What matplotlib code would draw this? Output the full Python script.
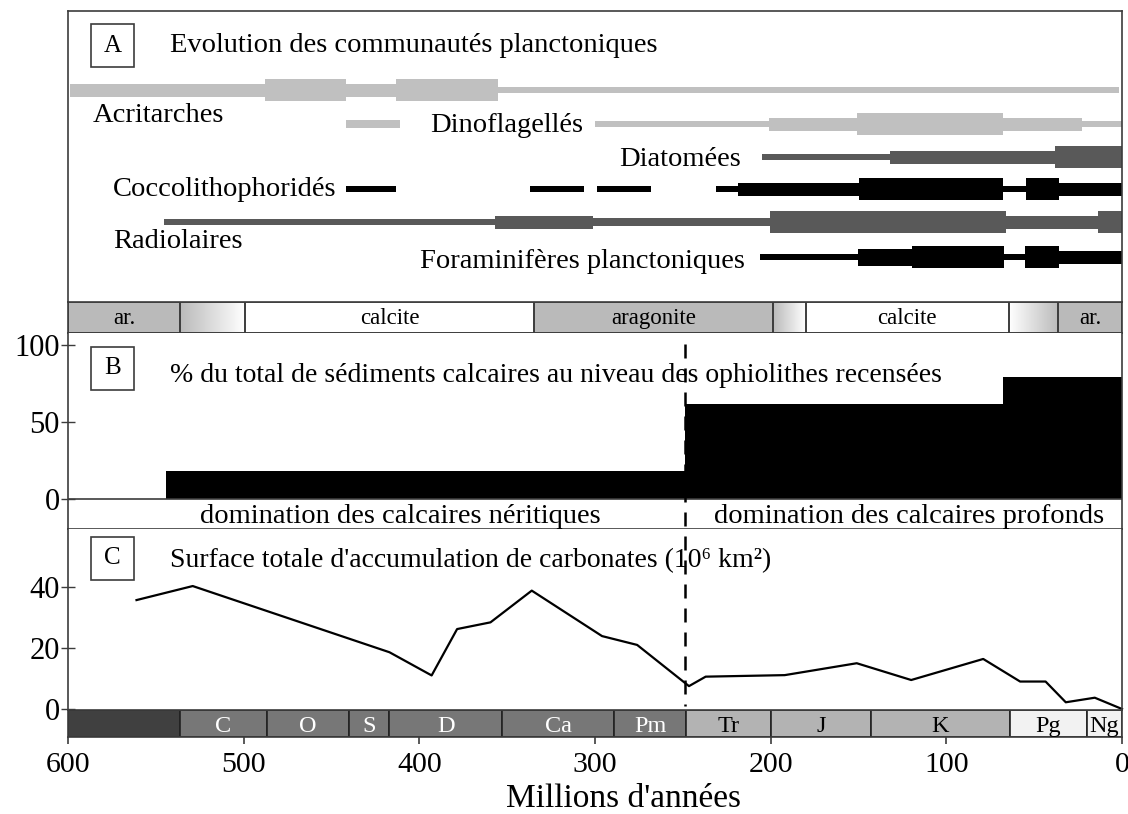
import numpy as np
import matplotlib.pyplot as plt
import matplotlib.transforms as mtransforms
from matplotlib.patches import Rectangle
from matplotlib.lines import Line2D
from matplotlib.colors import LinearSegmentedColormap

plt.rcParams['font.family'] = ['Liberation Serif', 'DejaVu Serif']

# ---- A : communautés planctoniques (début Ma, fin Ma, classe d'épaisseur)
acritarches = [(599, 488, 3), (488, 442, 5), (442, 413, 3), (413, 355, 5), (355, 1.5, 1)]
dinoflagelles = [(442, 411, 2), (300, 201, 1), (201, 151, 3), (151, 67.5, 5),
                 (67.5, 23, 3), (23, 0, 1)]
diatomees = [(205, 132, 1), (132, 38, 3), (38, 0, 5)]
coccolithophorides = [(442, 413, 1), (337, 306.5, 1), (299, 268, 1), (231, 218.5, 1),
                      (218.5, 149.5, 3), (149.5, 67.5, 5), (67.5, 54.5, 1),
                      (54.5, 36, 5), (36, 0, 3)]
radiolaires = [(545.5, 357, 1), (357, 301, 3), (301, 200.5, 2), (200.5, 66, 5),
               (66, 13.5, 3), (13.5, 0, 5)]
foraminiferes = [(206, 150.5, 1), (150.5, 119.5, 4), (119.5, 67, 5), (67, 55, 1),
                 (55, 35.7, 5), (35.7, 0, 3)]

# ---- minéralogie des mers
mineral_limites = [600, 536, 499, 335, 198.5, 180, 64.5, 36.5, 0]
mineral_noms = ['ar.', '', 'calcite', 'aragonite', '', 'calcite', '', 'ar.']
mineral_type = ['a', 'ac', 'c', 'a', 'ac', 'c', 'ca', 'a']

# ---- B : % sédiments calcaires (début Ma, fin Ma, valeur)
b_debut = [544, 249, 68]
b_fin = [249, 68, 0]
b_valeur = [18, 62, 79]
limite_pt = 249

# ---- C : surface d'accumulation des carbonates (10^6 km2)
age_c = [561, 529, 417, 393, 378.5, 359.5, 336, 296, 276, 246.5, 237, 192, 151,
         120, 79, 58, 43.5, 32, 15.5, 0]
surface_c = [35.7, 40.3, 18.6, 11.0, 26.2, 28.4, 38.8, 23.9, 21.0, 7.5, 10.6, 11.1,
             15.0, 9.5, 16.4, 9.0, 9.0, 2.2, 3.7, 0]

# ---- échelle géologique
periode_limites = [600, 536, 487, 440, 417, 353, 289, 248, 200, 143, 64, 20, 0]
periode_noms = ['', 'C', 'O', 'S', 'D', 'Ca', 'Pm', 'Tr', 'J', 'K', 'Pg', 'Ng']
periode_ere = ['pc', 'pz', 'pz', 'pz', 'pz', 'pz', 'pz', 'mz', 'mz', 'mz', 'cz', 'cz']

W, H = 1128, 814
fig = plt.figure(figsize=(W / 100, H / 100), dpi=100)


def zone(x0, y0, x1, y1):
    return [x0 / W, 1 - y1 / H, (x1 - x0) / W, (y1 - y0) / H]


X0, X1 = 68, 1122
spine_col = '#3c3c3c'
axA = fig.add_axes(zone(X0, 11, X1, 302))
axS = fig.add_axes(zone(X0, 302, X1, 333))
axB = fig.add_axes(zone(X0, 333, X1, 529))
axC = fig.add_axes(zone(X0, 529, X1, 710))
axG = fig.add_axes(zone(X0, 710, X1, 737))
for ax in (axA, axS, axB, axC, axG):
    ax.set_xlim(600, 0)
    for s in ax.spines.values():
        s.set_color(spine_col)
        s.set_linewidth(1.2)
    ax.set_xticks([])

# ---- panneau A
axA.set_ylim(302, 11)
axA.set_yticks([])
axA.spines['bottom'].set_visible(False)
epaisseur = {1: 6, 2: 8.5, 3: 13, 4: 17, 5: 21.5}
lignes = [
    (acritarches, '#c0c0c0', 90, 'Acritarches', 586, 121.5),
    (dinoflagelles, '#c0c0c0', 124, 'Dinoflagellés', 394, 131.5),
    (diatomees, '#595959', 157, 'Diatomées', 286, 166),
    (coccolithophorides, 'black', 189, 'Coccolithophoridés', 574.5, 196.5),
    (radiolaires, '#595959', 222, 'Radiolaires', 574.5, 248.5),
    (foraminiferes, 'black', 257, 'Foraminifères planctoniques', 399.5, 268.5),
]
for segs, col, yrow, nom, xl, yl in lignes:
    for deb, fin, k in segs:
        axA.barh(yrow, deb - fin, left=fin, height=epaisseur[k], color=col,
                 linewidth=0)
    axA.text(xl, yl, nom, fontsize=20.5, ha='left', va='baseline')
axA.text(542, 51.5, 'Evolution des communautés planctoniques', fontsize=20.5,
         ha='left', va='baseline')

# ---- bande minéralogique
gris = '#bababa'
cm_ac = LinearSegmentedColormap.from_list('ac', [gris, 'white'])
grad = np.linspace(0, 1, 256).reshape(1, -1)
for i, t in enumerate(mineral_type):
    a, b = mineral_limites[i], mineral_limites[i + 1]
    if t in ('ac', 'ca'):
        axS.imshow(grad, extent=(a, b, 0, 1), aspect='auto',
                   cmap=cm_ac if t == 'ac' else cm_ac.reversed(), zorder=1)
    else:
        axS.add_patch(Rectangle((b, 0), a - b, 1, fc=gris if t == 'a' else 'white',
                                ec='none', zorder=1))
    axS.add_patch(Rectangle((b, 0), a - b, 1, fc='none', ec=spine_col, lw=1.2,
                            zorder=2))
    if mineral_noms[i]:
        axS.text((a + b) / 2, 0.28, mineral_noms[i], fontsize=16.5, ha='center',
                 va='baseline', zorder=3)
axS.set_xlim(600, 0)
axS.set_ylim(0, 1)
axS.set_yticks([])

# ---- panneau B
axB.set_ylim(-19.5, 107.8)
axB.spines['top'].set_visible(False)
axB.bar(b_fin, b_valeur, width=np.array(b_debut) - np.array(b_fin),
        align='edge', color='black', linewidth=0)
axB.axhline(0, color=spine_col, lw=1.2)
axB.set_yticks([0, 50, 100])
axB.text(411, -15.5, 'domination des calcaires néritiques', fontsize=20.5,
         ha='center', va='baseline')
axB.text(121.5, -15.5, 'domination des calcaires profonds', fontsize=20.5,
         ha='center', va='baseline')
axB.text(542, 76, '% du total de sédiments calcaires au niveau des ophiolithes recensées',
         fontsize=20, ha='left', va='baseline')

# ---- panneau C
axC.set_ylim(-0.33, 59)
axC.spines['top'].set_visible(False)
axC.spines['bottom'].set_visible(False)
axC.plot(age_c, surface_c, color='black', lw=1.6, clip_on=False)
axC.set_yticks([0, 20, 40])
axC.text(542, 46.5, "Surface totale d'accumulation de carbonates (10⁶ km²)",
         fontsize=20, ha='left', va='baseline')

for ax in (axB, axC):
    ax.tick_params(axis='y', direction='inout', length=10, width=1,
                   color=spine_col, labelsize=22, pad=1)

# ---- échelle géologique
couleurs_ere = {'pc': '#404040', 'pz': '#777777', 'mz': '#b3b3b3', 'cz': '#f2f2f2'}
for i, nom in enumerate(periode_noms):
    a, b = periode_limites[i], periode_limites[i + 1]
    e = periode_ere[i]
    axG.add_patch(Rectangle((b, 0), a - b, 1, fc=couleurs_ere[e], ec='#222222',
                            lw=1.2))
    if nom:
        axG.text((a + b) / 2, 0.2, nom, fontsize=17.5, ha='center', va='baseline',
                 color='white' if e == 'pz' else 'black')
axG.set_ylim(0, 1)
axG.set_yticks([])
axG.set_xticks([600, 500, 400, 300, 200, 100, 0])
axG.tick_params(axis='x', direction='out', length=5, width=1.2, color=spine_col,
                labelsize=21.5, pad=6)
fig.text(624 / W, 1 - 807 / H, "Millions d'années", fontsize=24, ha='center',
         va='baseline')

# ---- cadres A, B, C
for lettre, (bx, by) in zip('ABC', [(91, 24), (91, 347), (91, 537)]):
    fig.add_artist(Rectangle((bx / W, 1 - (by + 43) / H), 43 / W, 43 / H,
                             transform=fig.transFigure, fc='white', ec=spine_col,
                             lw=1.2, zorder=6))
    fig.text((bx + 21.5) / W, 1 - (by + 21.5) / H, lettre, fontsize=18,
             ha='center', va='center', zorder=7)

# ---- limite Permien-Trias en tirets
trans = mtransforms.blended_transform_factory(axB.transData, fig.transFigure)
fig.add_artist(Line2D([limite_pt, limite_pt], [1 - 344 / H, 1 - 706 / H],
                      transform=trans, color='black', lw=1.8,
                      linestyle=(0, (5.6, 4)), zorder=5))

fig.savefig('out.png', dpi=100)
